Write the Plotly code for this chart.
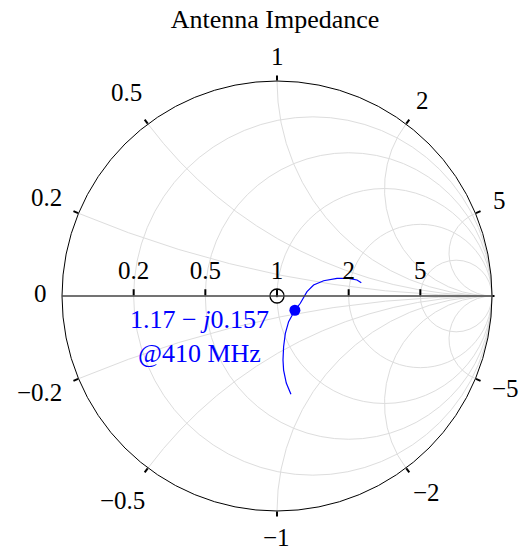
import math
import plotly.graph_objects as go

real_vals = [0.726, 0.773, 0.832, 0.881, 0.948, 1.015, 1.081, 1.17, 1.240, 1.323, 1.401, 1.533, 1.739, 1.953, 2.141, 2.256]
imag_vals = [-0.844, -0.750, -0.651, -0.576, -0.474, -0.364, -0.263, -0.157, -0.085, 0.054, 0.148, 0.230, 0.313, 0.364, 0.372, 0.332]

marker_real = [1.17]
marker_imag = [-0.157]

real_ticks = [0.2, 0.5, 1, 2, 5]
imag_ticks = [0.2, 0.5, 1, 2, 5]
imag_ticks_all = [-v for v in imag_ticks[::-1]] + imag_ticks

FONT = "Liberation Serif"
FS = 25
W, H = 527, 548
CX, CY, RAD = 277, 296, 215   # chart circle in page pixels

fig = go.Figure()
fig.add_trace(go.Scattersmith(real=real_vals, imag=imag_vals, mode="lines",
                              line=dict(color="#0000ff", width=1.2), showlegend=False,
                              hoverinfo="skip"))
fig.add_trace(go.Scattersmith(real=[1], imag=[0], mode="markers",
                              marker=dict(symbol="circle-dot", size=14, color="white",
                                          line=dict(color="black", width=1.3)),
                              showlegend=False))
fig.add_trace(go.Scattersmith(real=marker_real, imag=marker_imag, mode="markers",
                              marker=dict(symbol="circle", size=11, color="#0000ff"),
                              showlegend=False))


def fmt(v):
    s = ("%g" % abs(v))
    return ("−" + s) if v < 0 else s


def text_width(s):
    w = 0.0
    for ch in s:
        w += 0.25 if ch == "." else (0.564 if ch == "−" else 0.5)
    return w * FS


def label_at(txt, theta):
    """Place a label radially outside the chart circle at angle theta."""
    c, s = math.cos(theta), math.sin(theta)
    w = text_width(txt)
    d = RAD + 22 + 0.5 * max(w - 12.5, 0) + 5 * abs(math.sin(2 * theta))
    px, py = CX + d * c, CY - d * s - 3
    return dict(text=txt, xref="paper", yref="paper", x=px / W, y=1 - py / H,
                xanchor="center", yanchor="middle", height=24, showarrow=False,
                font=dict(family=FONT, size=FS, color="black"))


annotations = []
for v in imag_ticks_all:
    theta = math.pi - 2 * math.atan(v)   # where reactance arc meets the outer circle
    annotations.append(label_at(fmt(v), theta))
annotations.append(label_at("0", math.pi))   # left end of the real axis

annotations.append(dict(text="1.17 − <i>j</i>0.157<br>@410 MHz", xref="paper", yref="paper",
                        x=199 / W, y=1 - 336 / H, xanchor="center", yanchor="middle",
                        align="center", showarrow=False,
                        font=dict(family=FONT, size=26, color="#0000ff")))
# blank out the infinity label at the right end of the real axis
annotations.append(dict(text="", xref="paper", yref="paper", x=1.02, y=1 - CY / H,
                        xanchor="right", yanchor="middle", width=40, height=26,
                        bgcolor="white", showarrow=False))

fig.update_layout(
    width=W, height=H,
    margin=dict(l=0, r=0, t=0, b=0),
    paper_bgcolor="white",
    font=dict(family=FONT, size=FS, color="black"),
    title=dict(text="Antenna Impedance", x=275 / W, xanchor="center", y=1 - 19 / H,
               yanchor="middle", font=dict(family=FONT, size=26, color="black")),
    smith=dict(
        domain=dict(x=[(CX - RAD) / W, (CX + RAD) / W],
                    y=[1 - (CY + RAD) / H, 1 - (CY - RAD) / H]),
        bgcolor="white",
        realaxis=dict(tickvals=real_ticks, gridcolor="#dddddd", linecolor="#444444",
                      linewidth=1.5, ticks="top", ticklen=6, tickcolor="black",
                      tickangle=0, side="top",
                      tickfont=dict(family=FONT, size=FS)),
        imaginaryaxis=dict(tickvals=imag_ticks_all, gridcolor="#dddddd", linecolor="black",
                           linewidth=1, ticks="outside", ticklen=5, tickcolor="black",
                           showticklabels=False,
                           tickfont=dict(family=FONT, size=FS)),
    ),
    annotations=annotations,
)

fig.write_html("out.html", post_script="document.body.style.margin='0';",
               config={"displayModeBar": False})
